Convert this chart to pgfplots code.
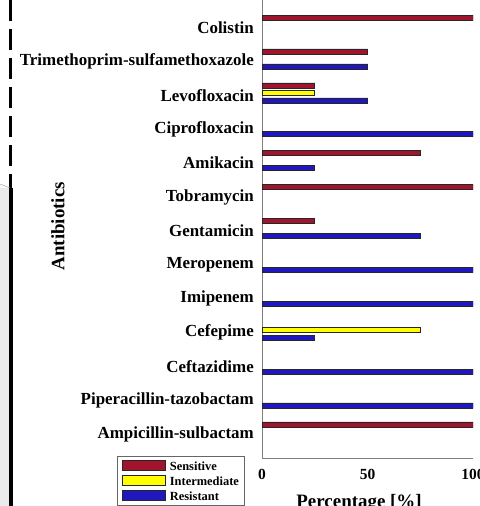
\documentclass[border=0pt]{standalone}
\usepackage{fontspec}
\setmainfont{Liberation Serif}
\usepackage{pgfplots}
\pgfplotsset{compat=1.18}
\definecolor{sens}{RGB}{160,20,46}
\definecolor{inter}{RGB}{255,255,0}
\definecolor{resi}{RGB}{32,24,190}
\definecolor{axgray}{RGB}{128,128,128}
\pgfplotsset{mylegend/.style={legend image code/.code={\draw[##1, line width=0.6bp] (0bp,-5bp) rectangle (43bp,5bp);}}}
\begin{document}
\begin{tikzpicture}
\useasboundingbox (0,0) rectangle (480bp,506bp);
\fill[black!8] (0,0) rectangle (9bp,318bp);
\draw[black, line width=2.5bp, dash pattern=on 21bp off 8bp] (10.5bp,506bp) -- (10.5bp,318bp);
\draw[black, line width=4bp] (10.5bp,0bp) -- (10.5bp,318bp);
\draw[black!35, line width=0.5bp] (0,322bp) -- (10bp,318bp);
\begin{axis}[
  at={(262bp,48bp)}, anchor=south west,
  scale only axis, width=211bp, height=459bp,
  xbar, bar width=5bp,
  xmin=0, xmax=100, ymin=-0.77, ymax=12.77,
  axis x line*=bottom, axis y line*=left,
  axis line style={axgray, line width=0.8bp},
  xtick={0,50,100}, ytick={0,...,12},
  yticklabels={Ampicillin-sulbactam, Piperacillin-tazobactam, Ceftazidime, Cefepime, Imipenem, Meropenem, Gentamicin, Tobramycin, Amikacin, Ciprofloxacin, Levofloxacin, Trimethoprim-sulfamethoxazole, Colistin},
  major tick length=0pt,
  /pgf/number format/assume math mode=true,
  yticklabel style={font=\fontsize{17}{20}\selectfont\bfseries, anchor=east, inner sep=0pt, xshift=-8bp, yshift=-2.5bp},
  xticklabel style={font=\fontsize{15.5}{18}\selectfont\bfseries, anchor=north, inner sep=0pt, yshift=-11bp},
  xlabel={Percentage [\%]}, ylabel={Antibiotics},
  xlabel style={font=\fontsize{19}{22}\selectfont\bfseries, at={(axis description cs:0.46,-0.108)}, anchor=base},
  ylabel style={font=\fontsize{19}{22}\selectfont\bfseries, at={(axis description cs:-0.967,0.505)}, anchor=center},
  every axis plot/.append style={draw=black!85, line width=0.6bp},
  legend style={at={(axis description cs:-0.687,0.004)}, anchor=north west, draw=black!60, fill=white,
    inner xsep=5bp, inner ysep=3.5bp, font=\fontsize{12.5}{14}\selectfont\bfseries, row sep=3.5bp,
    nodes={inner sep=0pt, text height=10.5bp, text depth=1bp, anchor=west},
    /tikz/every odd column/.append style={column sep=4bp}},
  legend cell align=left,
]
\addplot[fill=sens, bar shift=7.5bp, mylegend] coordinates {(100,12) (50,11) (25,10) (75,8) (100,7) (25,6) (100,0)};
\addplot[fill=inter, bar shift=0bp, mylegend] coordinates {(25,10) (75,3)};
\addplot[fill=resi, bar shift=-7.5bp, mylegend] coordinates {(50,11) (50,10) (100,9) (25,8) (75,6) (100,5) (100,4) (25,3) (100,2) (100,1)};
\legend{Sensitive, Intermediate, Resistant}
\end{axis}
\end{tikzpicture}
\end{document}
